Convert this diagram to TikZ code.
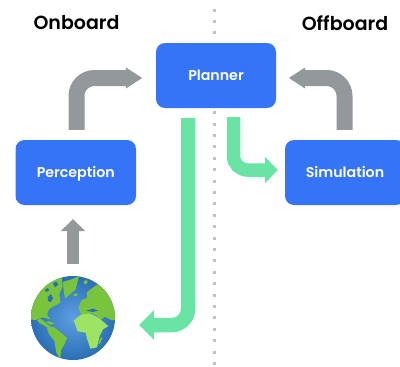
\documentclass[tikz,border=0pt]{standalone}
\usepackage{fontspec}
\setmainfont{Poppins SemiBold}
\newfontfamily\labelfont{Poppins SemiBold}
\usetikzlibrary{arrows.meta,calc}
\definecolor{boxblue}{HTML}{3574F6}
\definecolor{arrowgray}{HTML}{93989B}
\definecolor{arrowgreen}{HTML}{69E4A5}
\definecolor{dotgray}{HTML}{BDC1C6}
\definecolor{oceanlight}{HTML}{5E9EE2}
\definecolor{oceandark}{HTML}{2A6FB5}
\definecolor{landlight}{HTML}{9CE462}
\definecolor{landdark}{HTML}{78C43C}
\tikzset{
  block/.style={fill=boxblue,rounded corners=9pt,minimum height=65pt,text=white,font=\labelfont\fontsize{14.2pt}{16pt}\selectfont,inner sep=0pt,text height=12pt,text depth=3pt},
  title/.style={font=\fontsize{19pt}{21pt}\selectfont,text=black,inner sep=0pt},
  grayflow/.style={draw=arrowgray,line width=16pt,rounded corners=18pt,-{Triangle[length=16.5pt,width=20pt]}},
  greenflow/.style={draw=arrowgreen,line width=13.5pt,rounded corners=14pt,-{Triangle[length=13pt,width=26pt]}},
  land/.style={fill=landdark},
  lake/.style={fill=oceandark},
  dot/.style={fill=dotgray,minimum size=3pt,inner sep=0pt}
}
\begin{document}
\begin{tikzpicture}[x=1pt,y=-1pt]
\useasboundingbox (0,0) rectangle (400,367);
\foreach \i in {0,...,31}{\node[dot] at (214.5,{10+11.4*\i}) {};}
\node[title] (onboard) at (76.5,23) {Onboard};
\node[title] (offboard) at (345,23) {Offboard};
\node[block,minimum width=120pt] (planner) at (216,75.5) {Planner};
\node[block,minimum width=120.5pt] (perception) at (75.75,172.5) {Perception};
\node[block,minimum width=120pt] (simulation) at (345,172.5) {Simulation};
\node[circle,minimum size=84pt,inner sep=0pt,inner color=oceanlight,outer color=oceandark] (globe) at (73,318) {};
\begin{scope}
\clip (73,318) circle (42pt);
\begin{scope}[shift={(25,270)},x=.3333pt,y=-.3333pt]
% North America
\fill[land] (75,20) -- (110,20) -- (113,50) -- (103,72) -- (106,98) -- (88,108) -- (72,118) -- (66,134) -- (76,148) -- (52,142) -- (32,150) -- (10,148) -- (20,90) -- (45,40) -- cycle;
\fill[lake] (68,82) -- (78,72) -- (84,84) -- (78,96) -- (70,94) -- cycle;
\fill[lake] (84,40) -- (94,34) -- (100,44) -- (90,52) -- cycle;
\fill[lake] (60,58) -- (70,54) -- (72,62) -- (62,66) -- cycle;
% Central America
\fill[land] (36,150) -- (46,146) -- (60,156) -- (72,166) -- (84,176) -- (72,176) -- (56,166) -- (44,160) -- cycle;
\fill[land] (62,156) -- (74,154) -- (88,160) -- (76,164) -- cycle;
% South America
\fill[land] (66,176) -- (84,170) -- (106,186) -- (126,204) -- (118,224) -- (108,240) -- (106,268) -- (94,248) -- (88,212) -- (72,192) -- cycle;
% Greenland
\fill[land] (114,36) -- (140,28) -- (162,18) -- (152,58) -- (136,72) -- (120,86) -- (116,62) -- cycle;
\fill[land] (176,34) -- (186,30) -- (188,40) -- (178,42) -- cycle;
% Eurasia
\fill[land] (186,66) -- (205,52) -- (222,40) -- (250,60) -- (280,110) -- (280,152) -- (258,150) -- (240,140) -- (226,150) -- (214,136) -- (196,130) -- (168,134) -- (160,112) -- (170,90) -- (186,84) -- cycle;
\fill[land] (146,72) -- (158,70) -- (156,78) -- (148,78) -- cycle;
\fill[lake] (184,122) -- (204,116) -- (220,122) -- (204,126) -- cycle;
% Africa
\fill[fill=landlight] (146,152) -- (168,134) -- (192,130) -- (212,138) -- (228,150) -- (250,168) -- (234,178) -- (224,198) -- (216,232) -- (196,236) -- (186,206) -- (182,188) -- (158,184) -- cycle;
\fill[land] (226,204) -- (232,202) -- (226,220) -- (220,222) -- cycle;
\end{scope}
\end{scope}
\draw[grayflow,shorten <=10pt,shorten >=13.5pt] ([xshift=.75pt]perception.north) |- ([yshift=-2.5pt]planner.west);
\draw[grayflow,shorten <=10pt,shorten >=12.5pt] (simulation.north -| 344.5,0) |- ([yshift=-2.5pt]planner.east);
\draw[grayflow,line width=12.5pt,shorten <=11.5pt,shorten >=14pt,-{Triangle[length=12pt,width=24pt]}] (globe.north) -- (perception.south -| globe.north);
\draw[greenflow,shorten <=9pt,shorten >=7pt] ([xshift=17.5pt]planner.south) |- ([yshift=2.5pt]simulation.west);
\draw[greenflow,line width=14.5pt,rounded corners=16pt,shorten <=10pt,shorten >=24pt,-{Triangle[length=15pt,width=29pt]}] ([xshift=-28pt]planner.south) |- ([yshift=-7pt]globe.east);
\end{tikzpicture}
\end{document}
